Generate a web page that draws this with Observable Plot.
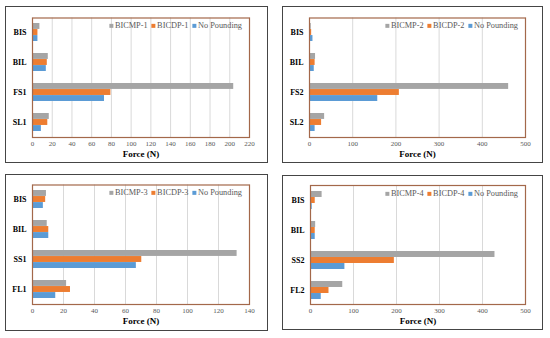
<!DOCTYPE html>
<html><head><meta charset="utf-8">
<script src="https://cdn.jsdelivr.net/npm/d3@7"></script>
<script src="https://cdn.jsdelivr.net/npm/@observablehq/plot@0.6"></script>
<style>
body{margin:0;background:#fff;}
#chart{position:relative;width:550px;height:338px;overflow:hidden;font-family:"Liberation Serif","Times New Roman",Times,serif;background:#fff;}
.box{position:absolute;border:1.5px solid #454545;box-sizing:border-box;pointer-events:none;}
.plot{position:absolute;}
.plot svg{overflow:visible;}
.plot svg text{font-family:"Liberation Serif","Times New Roman",Times,serif;}
.legend{position:absolute;display:flex;gap:4px;font-size:8.3px;color:#595959;white-space:nowrap;align-items:center;transform:translate(-100%,-50%);line-height:1;font-family:"Liberation Serif","Times New Roman",Times,serif;}
.sw{display:inline-block;width:4px;height:4px;margin-right:1.5px;}
</style></head><body><div id="chart"></div>
<script>
// ---- data ----
const seriesColors = ["#a5a5a5", "#ed7d31", "#5b9bd5"];

const cats1 = ["BIS", "BIL", "FS1", "SL1"];
const bicmp1 = [7.5, 16, 204, 17];
const bicdp1 = [5.5, 15, 79.5, 15.5];
const noPound1 = [5.5, 14, 73, 9];
const ticks1 = [0, 20, 40, 60, 80, 100, 120, 140, 160, 180, 200, 220];

const cats2 = ["BIS", "BIL", "FS2", "SL2"];
const bicmp2 = [4, 14, 461, 35];
const bicdp2 = [5, 13, 208, 28];
const noPound2 = [8, 11, 158, 13];
const ticks2 = [0, 100, 200, 300, 400, 500];

const cats3 = ["BIS", "BIL", "SS1", "FL1"];
const bicmp3 = [9, 9.5, 132, 22];
const bicdp3 = [8.5, 10.5, 70.5, 24.5];
const noPound3 = [7, 10.5, 67, 15];
const ticks3 = [0, 20, 40, 60, 80, 100, 120, 140];

const cats4 = ["BIS", "BIL", "SS2", "FL2"];
const bicmp4 = [27, 12, 429, 75];
const bicdp4 = [11, 11, 195, 43];
const noPound4 = [4, 11, 80, 25];
const ticks4 = [0, 100, 200, 300, 400, 500];

const axisTitle = "Force (N)";

// ---- layout (outer box: x,y,w,h ; inner plot area: x1,y1,x2,y2) ----
const panels = [
  {outer:[5,6,263,157], inner:[32,17.5,249,137], cats:cats1, ticks:ticks1,
   series:[{name:"BICMP-1", values:bicmp1},{name:"BICDP-1", values:bicdp1},{name:"No Pounding", values:noPound1}]},
  {outer:[282,6,261,157], inner:[309,17.5,525,137], cats:cats2, ticks:ticks2,
   series:[{name:"BICMP-2", values:bicmp2},{name:"BICDP-2", values:bicdp2},{name:"No Pounding", values:noPound2}]},
  {outer:[5,174,263,157], inner:[32,184.5,249,304], cats:cats3, ticks:ticks3,
   series:[{name:"BICMP-3", values:bicmp3},{name:"BICDP-3", values:bicdp3},{name:"No Pounding", values:noPound3}]},
  {outer:[282,175,261,155], inner:[310,185,525,304], cats:cats4, ticks:ticks4,
   series:[{name:"BICMP-4", values:bicmp4},{name:"BICDP-4", values:bicdp4},{name:"No Pounding", values:noPound4}]}
];

const chart = document.getElementById("chart");
const serif = "'Liberation Serif', 'Times New Roman', Times, serif";

panels.forEach(p => {
  const [ox, oy, ow, oh] = p.outer;
  const [ix1, iy1, ix2, iy2] = p.inner;
  const ml = ix1 - ox, mt = iy1 - oy, mr = ox + ow - ix2, mb = oy + oh - iy2;
  const pI = 0.4, pO = 0.18;
  const step = (iy2 - iy1) / (p.cats.length - pI + 2 * pO);
  const bw = step * (1 - pI) / 3;
  const names = p.series.map(s => s.name);
  const rows = [];
  p.series.forEach((s, i) => p.cats.forEach((c, j) => rows.push({cat: c, series: s.name, value: s.values[j], idx: i})));

  const svg = Plot.plot({
    width: ow, height: oh,
    marginLeft: ml, marginRight: mr, marginTop: mt, marginBottom: mb,
    style: {fontFamily: serif, background: "transparent"},
    x: {domain: [0, p.ticks[p.ticks.length - 1]]},
    y: {domain: p.cats, paddingInner: pI, paddingOuter: pO},
    color: {domain: names, range: seriesColors},
    marks: [
      Plot.gridX(p.ticks, {stroke: "#d9d9d9", strokeOpacity: 1, strokeWidth: 1}),
      ...p.series.map((s, i) => Plot.barX(rows.filter(r => r.idx === i), {
        x: "value", y: "cat", fill: "series",
        insetTop: i * bw, insetBottom: (2 - i) * bw
      })),
      Plot.frame({stroke: "#a3684a", strokeWidth: 1.2}),
      Plot.axisX({ticks: p.ticks, tickSize: 0, tickPadding: 4, fontSize: 7, fill: "#595959", label: null}),
      Plot.axisY({tickSize: 0, tickPadding: 6, fontSize: 8, fontWeight: "bold", fill: "#000", label: null}),
      Plot.text([axisTitle], {frameAnchor: "bottom", dy: 19.5, text: d => d, fontWeight: "bold", fontSize: 9, fill: "#000"})
    ]
  });
  const wrap = document.createElement("div");
  wrap.className = "plot";
  wrap.style.left = ox + "px"; wrap.style.top = oy + "px";
  wrap.appendChild(svg);
  chart.appendChild(wrap);

  const box = document.createElement("div");
  box.className = "box";
  box.style.left = ox + "px"; box.style.top = oy + "px";
  box.style.width = ow + "px"; box.style.height = oh + "px";
  chart.appendChild(box);

  const leg = document.createElement("div");
  leg.className = "legend";
  leg.style.left = (ix2 - 7) + "px";
  leg.style.top = (iy1 + 8.5) + "px";
  p.series.forEach((s, i) => {
    const item = document.createElement("span");
    item.style.display = "inline-flex"; item.style.alignItems = "center";
    const sw = document.createElement("span");
    sw.className = "sw"; sw.style.background = seriesColors[i];
    item.appendChild(sw);
    item.appendChild(document.createTextNode(s.name));
    leg.appendChild(item);
  });
  chart.appendChild(leg);
});
</script>
</body></html>
